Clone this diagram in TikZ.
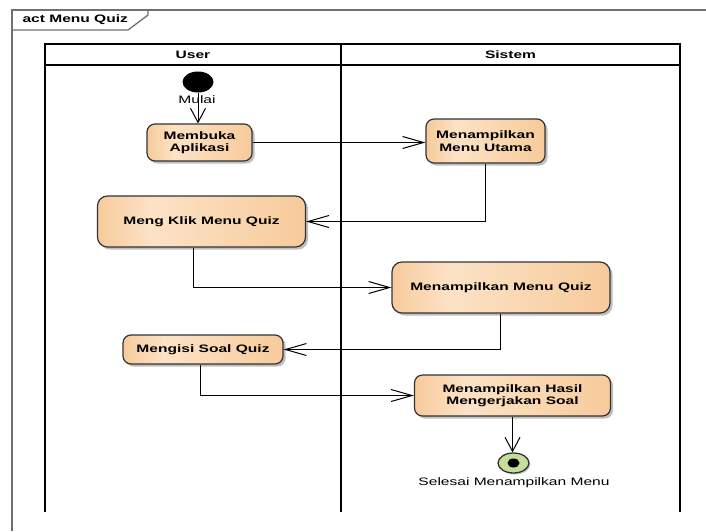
\documentclass[tikz,border=0pt]{standalone}
\usepackage{fontspec}
\setmainfont{Liberation Sans}[FakeStretch=1.44]
\usetikzlibrary{arrows.meta,shapes.geometric,shadows}
\definecolor{ora}{HTML}{F7CB9B}
\definecolor{orl}{HTML}{FCE2C6}
\definecolor{edgec}{HTML}{333333}
\definecolor{framec}{HTML}{707070}
\definecolor{fin}{HTML}{C5DF9A}
\pgfdeclarehorizontalshading{actshade}{100bp}{color(0bp)=(ora); color(25bp)=(ora); color(38bp)=(orl); color(75bp)=(ora); color(100bp)=(ora)}
\begin{document}
\begin{tikzpicture}[x=1pt,y=-1pt,
 every node/.style={font=\fontsize{10.8}{12.5}\selectfont},
 act/.style={draw=edgec, line width=1.2pt, rounded corners=8pt, shade, shading=actshade, align=center, inner sep=0pt,
   font=\fontsize{10.8}{12.5}\selectfont\bfseries,
   drop shadow={shadow xshift=2.5pt, shadow yshift=-2.5pt, fill=black!25, opacity=1}},
 hdr/.style={font=\fontsize{10.8}{12.5}\selectfont\bfseries},
 flow/.style={line width=1pt, draw=black},
 harrow/.style={flow, -{Straight Barb[length=21pt,width=12pt]}},
 varrow/.style={flow, -{Straight Barb[length=14pt,width=15pt]}},
 lane/.style={line width=1.5pt, draw=black},
 frm/.style={line width=1.3pt, draw=framec}]
\fill[white] (0,0) rectangle (706,531);
\useasboundingbox (0,0) rectangle (706,531);
% frame
\draw[frm] (12,531) -- (12,10) -- (706,10);
\draw[frm] (12,30) -- (128,30) -- (148,15) -- (148,10);
\node[hdr, anchor=west] (title) at (19,20) {act Menu Quiz};
% swimlanes
\draw[lane] (45,512) -- (45,44) -- (680,44) -- (680,512);
\draw[lane] (45,65) -- (680,65);
\draw[lane] (341,44) -- (341,512);
\node[hdr] (huser) at (193,55) {User};
\node[hdr] (hsis) at (510.5,55) {Sistem};
% nodes
\node[ellipse, fill=black, minimum width=31pt, minimum height=21pt, inner sep=0pt] (init) at (198,82) {};
\node[act, minimum width=105pt, minimum height=37pt] (membuka) at (199.5,142.5) {Membuka\\Aplikasi};
\node[act, minimum width=119pt, minimum height=44pt] (utama) at (485.5,141) {Menampilkan\\Menu Utama};
\node[act, minimum width=208pt, minimum height=51pt, rounded corners=10pt] (klik) at (201.5,221.5) {Meng Klik Menu Quiz};
\node[act, minimum width=218pt, minimum height=51pt, rounded corners=10pt] (mquiz) at (501,287.5) {Menampilkan Menu Quiz};
\node[act, minimum width=160pt, minimum height=29pt] (isi) at (203,349.5) {Mengisi Soal Quiz};
\node[act, minimum width=196pt, minimum height=41pt] (hasil) at (512.5,395.5) {Menampilkan Hasil\\Mengerjakan Soal};
\node[ellipse, draw=edgec, line width=1.3pt, fill=fin, minimum width=31pt, minimum height=20pt, inner sep=0pt,
  drop shadow={shadow xshift=1.5pt, shadow yshift=-1.5pt, fill=black!20, opacity=1}] (final) at (513.5,463) {};
\node[ellipse, fill=black, minimum width=12pt, minimum height=9pt, inner sep=0pt] (findot) at (final.center) {};
% edges
\draw[varrow] (init.south) -- (init.south |- membuka.north);
\draw[harrow] (membuka.east) -- (membuka.east -| utama.west);
\draw[harrow] (utama.south) |- (klik.east);
\draw[harrow] ([xshift=-7.8pt]klik.south) |- (mquiz.west);
\draw[harrow] ([xshift=-0.7pt]mquiz.south) |- (isi.east);
\draw[harrow] ([xshift=-2.3pt]isi.south) |- (hasil.west);
\draw[varrow] (hasil.south) -- (hasil.south |- final.north);
% labels
\node (mulai) at (197,100) {Mulai};
\node (selesai) at (514,482.5) {Selesai Menampilkan Menu};
\end{tikzpicture}
\end{document}
